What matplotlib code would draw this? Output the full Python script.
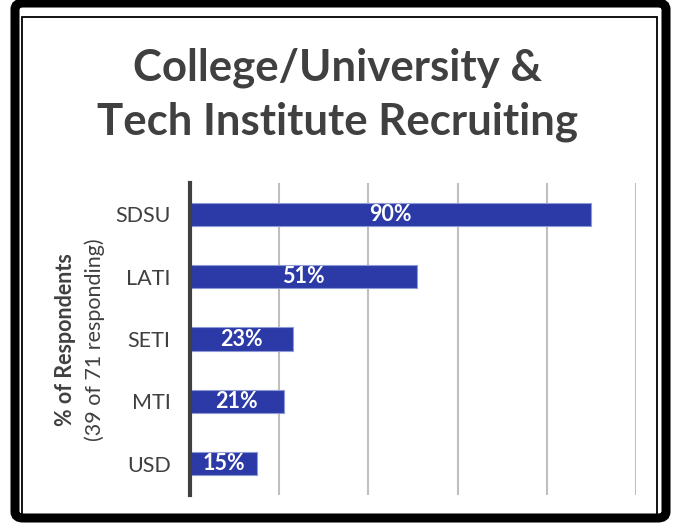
import matplotlib.pyplot as plt
from matplotlib.patches import FancyBboxPatch, Rectangle

categories = ["SDSU", "LATI", "SETI", "MTI", "USD"]
values = [90, 51, 23, 21, 15]
title = "College/University &\nTech Institute Recruiting"

W, H = 675, 527
fig = plt.figure(figsize=(W / 100, H / 100), dpi=100)
fig.patch.set_facecolor("white")

# double frame around the chart
outer = FancyBboxPatch((15 / W, 9 / H), (666 - 15) / W, (524 - 9) / H,
                       boxstyle="round,pad=0,rounding_size=0.012",
                       transform=fig.transFigure, facecolor="none",
                       edgecolor="black", linewidth=6.5, zorder=0)
inner = Rectangle((22 / W, 1 - 518 / H), (657 - 22) / W, (518 - 17) / H,
                  transform=fig.transFigure, facecolor="none",
                  edgecolor="black", linewidth=1.3, zorder=0)
fig.patches.extend([outer, inner])

fig.text(0.5, 1 - 95 / H, title, ha="center", va="center",
         fontsize=31.5, fontweight="bold", color="#404040",
         family="Lato", linespacing=1.42)

ax = fig.add_axes([190 / W, 1 - 495 / H, (636 - 190) / W, (495 - 183) / H])
y = list(range(len(categories)))
bars = ax.barh(y, values, height=0.37, color="#2b3aa6",
               edgecolor="#8d9ad6", linewidth=0.8, zorder=3)
for b, v in zip(bars, values):
    ax.text(b.get_width() / 2, b.get_y() + b.get_height() / 2, f"{v}%",
            ha="center", va="center", color="white", fontsize=15.5,
            fontweight="bold", family="Lato", zorder=4)

ax.set_xlim(0, 100)
ax.set_ylim(4.5, -0.5)
ax.set_xticks([20, 40, 60, 80, 100])
ax.set_xticklabels([])
ax.tick_params(axis="x", length=0)
ax.grid(axis="x", color="#bfbfbf", linewidth=1.5, zorder=0)
ax.set_yticks(y)
ax.set_yticklabels(categories, fontsize=15.5, color="#404040", family="Lato")
ax.tick_params(axis="y", length=0, pad=14)
for s in ["top", "right", "bottom"]:
    ax.spines[s].set_visible(False)
ax.spines["left"].set_color("#404040")
ax.spines["left"].set_linewidth(3)
ax.spines["left"].set_zorder(5)

fig.text(66 / W, 1 - 340 / H, "% of Respondents", rotation=90,
         ha="center", va="center", fontsize=15.5, fontweight="bold",
         color="#404040", family="Lato")
fig.text(95 / W, 1 - 340 / H, "(39 of 71 responding)", rotation=90,
         ha="center", va="center", fontsize=15.5, color="#404040",
         family="Lato")

fig.savefig("out.png", dpi=100)
